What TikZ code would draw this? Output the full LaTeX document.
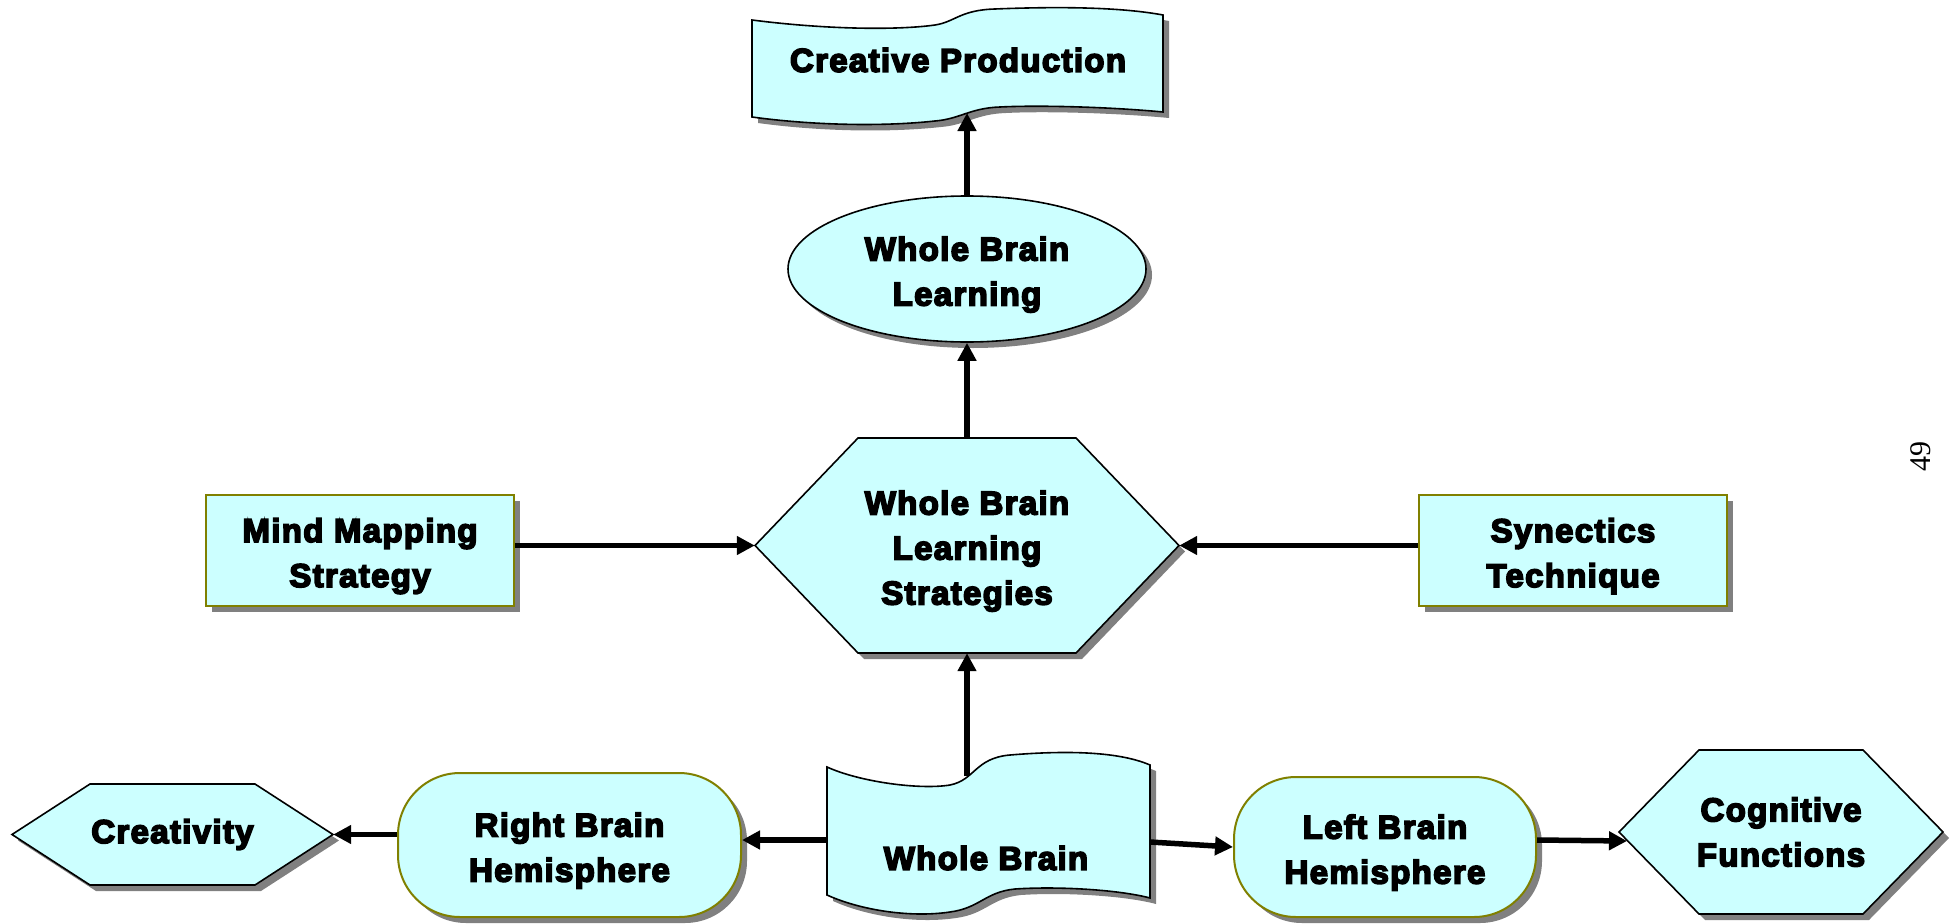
\documentclass[tikz,border=0pt]{standalone}
\usepackage{fontspec}
\newfontfamily\heavy{Liberation Sans Bold}[FakeBold=5,LetterSpace=4]
\newfontfamily\pagenum{Liberation Serif}
\usetikzlibrary{shapes.geometric,shadows,arrows.meta,calc}
\definecolor{cellfill}{HTML}{CCFFFF}
\definecolor{olivepen}{HTML}{808000}
\definecolor{shade}{HTML}{808080}
\begin{document}
\begin{tikzpicture}[x=1pt,y=-1pt,
  shadowed/.style={drop shadow={shadow xshift=6pt,shadow yshift=-6pt,fill=shade,opacity=1}},
  shp/.style={shadowed,fill=cellfill,draw=black,line width=1.6pt},
  oshp/.style={shadowed,fill=cellfill,draw=olivepen,line width=2pt},
  lbl/.style={font=\heavy\fontsize{33}{45}\selectfont,align=center,inner sep=0pt,text=black},
  % two- and three-line labels sit a little below the shape centre
  lowtwo/.style={text height=80pt},
  lowthree/.style={text height=125pt},
  arr/.style={line width=5.5pt,-{Triangle[length=18pt,width=18pt]}},
]
\useasboundingbox (0,0) rectangle (1950,923);

% ---- wavy banners
\path[shp] (752,20) .. controls (830,30) and (900,30) .. (935,25)
  .. controls (955,22) and (960,10) .. (995,9)
  .. controls (1070,6) and (1125,8) .. (1163,15)
  -- (1163,112)
  .. controls (1110,107) and (1040,105) .. (1000,107)
  .. controls (970,108) and (960,119) .. (935,121)
  .. controls (880,127) and (810,125) .. (752,117) -- cycle;
\node[lbl] (cp) at (958,60) {Creative Production};
\coordinate (cp-in) at (967,113);

\path[shp] (827,767) .. controls (860,782) and (920,790) .. (950,785)
  .. controls (975,780) and (975,758) .. (1010,755)
  .. controls (1070,750) and (1120,752) .. (1150,765)
  -- (1150,898)
  .. controls (1120,890) and (1060,886) .. (1015,889)
  .. controls (985,892) and (980,908) .. (950,912)
  .. controls (910,918) and (860,910) .. (827,895) -- cycle;
\node[lbl] (wb) at (986,858) {Whole Brain};
\coordinate (wb-n) at (967,776);
\coordinate (wb-w) at (827,840);
\coordinate (wb-e) at (1150,842);

% ---- hexagons
\path[shp] (755,545.5) -- (858,438) -- (1076,438) -- (1179,545.5)
  -- (1076,653) -- (858,653) -- cycle;
\node[lbl,lowthree,minimum width=424pt,minimum height=215pt] (hub) at (967,545.5)
  {Whole Brain\\Learning\\Strategies};

\path[shp] (12,834.5) -- (90,784) -- (255,784) -- (333,834.5)
  -- (255,885) -- (90,885) -- cycle;
\node[lbl,minimum width=321pt,minimum height=101pt] (cr) at (172.5,834.5) {Creativity};

\path[shp] (1619,832) -- (1699,750) -- (1863,750) -- (1943,832)
  -- (1863,914) -- (1699,914) -- cycle;
\node[lbl,minimum width=324pt,minimum height=164pt] (cf) at (1781,832)
  {Cognitive\\Functions};
\coordinate (cf-in) at (1627,841);

% ---- ellipse, boxes, rounded boxes
\node[shp,lbl,lowtwo,ellipse,minimum width=358pt,minimum height=146pt] (wbl) at (967,269)
  {Whole Brain\\Learning};
\node[oshp,lbl,lowtwo,minimum width=308pt,minimum height=111pt] (mm) at (360,550.5)
  {Mind Mapping\\Strategy};
\node[oshp,lbl,lowtwo,minimum width=308pt,minimum height=111pt] (syn) at (1573,550.5)
  {Synectics\\Technique};
\node[oshp,lbl,lowtwo,rounded corners=62pt,minimum width=343pt,minimum height=144pt] (rb)
  at (569.5,845) {Right Brain\\Hemisphere};
\node[oshp,lbl,lowtwo,rounded corners=62pt,minimum width=302pt,minimum height=140pt] (lb)
  at (1385,847) {Left Brain\\Hemisphere};

% ---- page number
\node[font=\pagenum\fontsize{30}{30}\selectfont,rotate=90,inner sep=0pt] (pg)
  at (1921,456) {49};

% ---- connectors
\draw[arr] (wbl.north) -- (cp-in);
\draw[arr] (hub.north) -- (wbl.south);
\draw[arr] (mm.east |- hub.west) -- (hub.west);
\draw[arr] (syn.west |- hub.east) -- (hub.east);
\draw[arr] (wb-n) -- (hub.south);
\draw[arr] (wb-w) -- (rb.east |- wb-w);
\draw[arr] (rb.west |- cr.east) -- (cr.east);
\draw[arr] (wb-e) -- (lb.west);
\draw[arr] ([yshift=7pt]lb.east) -- (cf-in);
\end{tikzpicture}
\end{document}
